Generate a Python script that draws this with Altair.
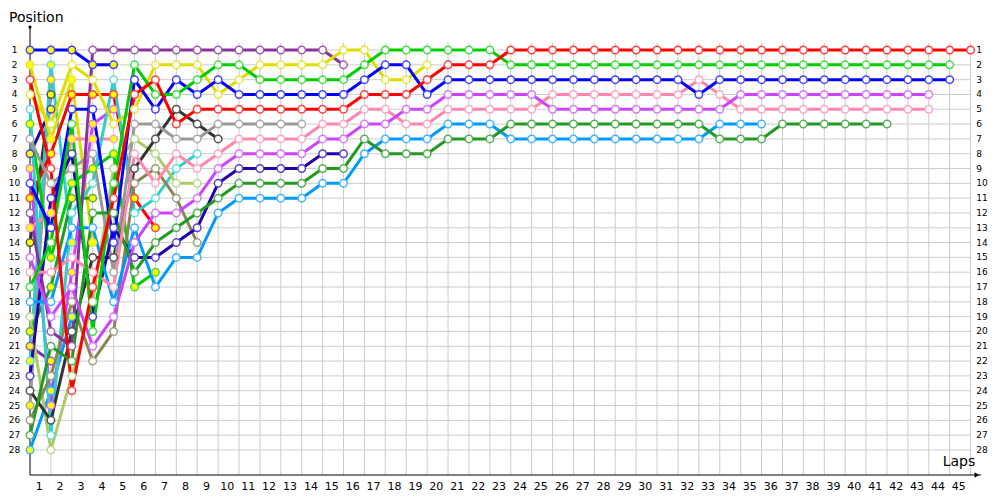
import altair as alt
import pandas as pd

# ---------------- data (positions from the grid, lap 0, onwards) ----------------
LAP_LABELS = [str(i) for i in range(1, 46)]
POSITION_LABELS = [str(i) for i in range(1, 29)]

RED_W = [3, 9, 24, 17, 11, 4, 3, 6, 5, 5,
         5, 5, 5, 5, 5, 5, 4, 4, 4, 3,
         2, 2, 2, 1, 1, 1, 1, 1, 1, 1,
         1, 1, 1, 1, 1, 1, 1, 1, 1, 1,
         1, 1, 1, 1, 1, 1]
GREEN_W = [17, 14, 6, 20, 10, 2, 4, 4, 3, 2,
           2, 3, 3, 3, 3, 3, 2, 1, 1, 1,
           1, 1, 1, 2, 2, 2, 2, 2, 2, 2,
           2, 2, 2, 2, 2, 2, 2, 2, 2, 2,
           2, 2, 2, 2, 2]
BLUE_W = [10, 13, 5, 5, 14, 3, 5, 3, 4, 3,
          4, 4, 4, 4, 4, 4, 3, 2, 2, 4,
          3, 3, 3, 3, 3, 3, 3, 3, 3, 3,
          3, 3, 4, 3, 3, 3, 3, 3, 3, 3,
          3, 3, 3, 3, 3]
VIOLET_W = [15, 19, 17, 21, 19, 14, 12, 12, 11, 9,
            8, 8, 8, 8, 7, 7, 6, 6, 5, 5,
            4, 4, 4, 4, 4, 5, 5, 5, 5, 5,
            5, 5, 5, 5, 4, 4, 4, 4, 4, 4,
            4, 4, 4, 4]
PINK_W = [16, 16, 15, 16, 17, 8, 10, 8, 9, 8,
          7, 7, 7, 7, 6, 6, 5, 5, 6, 6,
          5, 5, 5, 5, 5, 4, 4, 4, 4, 4,
          4, 4, 3, 4, 5, 5, 5, 5, 5, 5,
          5, 5, 5, 5]
DKGREEN_W = [27, 21, 22, 12, 12, 16, 14, 13, 12, 11,
             10, 10, 10, 10, 9, 9, 7, 8, 8, 8,
             7, 7, 7, 6, 6, 6, 6, 6, 6, 6,
             6, 6, 6, 7, 7, 7, 6, 6, 6, 6,
             6, 6]
LTBLUE_W = [18, 18, 13, 13, 18, 13, 17, 15, 15, 12,
            11, 11, 11, 11, 10, 10, 8, 7, 7, 7,
            6, 6, 6, 7, 7, 7, 7, 7, 7, 7,
            7, 7, 7, 6, 6, 6]
DKPURPLE_W = [12, 20, 21, 1, 1, 1, 1, 1, 1, 1, 1, 1, 1, 1, 1, 2]
YELLOW_W = [4, 6, 2, 3, 6, 5, 2, 2, 2, 4, 3, 2, 2, 2, 2, 1, 1, 3, 3, 2]
GRAY_W = [7, 10, 9, 8, 16, 6, 6, 7, 7, 6, 6, 6, 6, 6]
DKGRAY_W = [24, 26, 20, 15, 15, 9, 7, 5, 6, 7]
CYAN_W = [5, 27, 12, 10, 3, 12, 11, 9, 8]
LTOLIVE_W = [19, 28, 23, 18, 9, 7, 8, 10, 10]
OLIVE_W = [26, 23, 18, 22, 20, 10, 9, 11, 14]
NAVY_W = [23, 11, 8, 19, 13, 15, 15, 14, 13, 10, 9, 9, 9, 9, 8, 8]

BLUE_Y = [1, 1, 1, 2, 2]
YELLOW_Y = [2, 7, 3, 14]
VIOLET_Y = [9, 25, 16, 6, 5]
PINK_Y = [13, 12, 7, 7, 7]
RED_Y = [11, 8, 4, 4, 4, 11, 13]
GREEN_Y = [6, 15, 10, 9, 8, 17, 16]
DKGREEN_Y = [20, 17, 11, 11]
NAVY_Y = [8, 5]
DKPURPLE_Y = [21, 22]
CYAN_Y = [22, 2, 14]
DKGRAY_Y = [14, 4]
GRAY_Y = [25, 3]
LTBLUE_Y = [28, 24, 19]

# (name, positions, line colour, ring colour, marker fill)
DRIVERS = [
    ("navyY", NAVY_Y, "#2200aa", "#5544cc", "#ffff00"),
    ("dkpurpleY", DKPURPLE_Y, "#883399", "#a060b0", "#ffff00"),
    ("dkgrayY", DKGRAY_Y, "#333333", "#555555", "#ffff00"),
    ("grayY", GRAY_Y, "#999999", "#aaaaaa", "#ffff00"),
    ("cyanY", CYAN_Y, "#33cccc", "#66dddd", "#ffff00"),
    ("ltblueY", LTBLUE_Y, "#0099ff", "#44b3ff", "#ffff00"),
    ("yellowY", YELLOW_Y, "#dddd00", "#e6e640", "#ffff00"),
    ("dkgreenY", DKGREEN_Y, "#229922", "#55b055", "#ffff00"),
    ("blueY", BLUE_Y, "#0000ff", "#4444ff", "#ffff00"),
    ("violetY", VIOLET_Y, "#cc44ff", "#d977ff", "#ffff00"),
    ("pinkY", PINK_Y, "#ff88aa", "#ffa6c0", "#ffff00"),
    ("redY", RED_Y, "#ff0000", "#ff4444", "#ffff00"),
    ("greenY", GREEN_Y, "#00cc00", "#44dd44", "#ffff00"),
    ("cyanW", CYAN_W, "#33cccc", "#66dddd", "#ffffff"),
    ("ltoliveW", LTOLIVE_W, "#aacc66", "#bbd888", "#ffffff"),
    ("oliveW", OLIVE_W, "#888855", "#a0a077", "#ffffff"),
    ("dkgrayW", DKGRAY_W, "#333333", "#555555", "#ffffff"),
    ("grayW", GRAY_W, "#999999", "#aaaaaa", "#ffffff"),
    ("navyW", NAVY_W, "#2200aa", "#5544cc", "#ffffff"),
    ("dkpurpleW", DKPURPLE_W, "#883399", "#a060b0", "#ffffff"),
    ("yellowW", YELLOW_W, "#dddd00", "#e6e640", "#ffffff"),
    ("ltblueW", LTBLUE_W, "#0099ff", "#44b3ff", "#ffffff"),
    ("dkgreenW", DKGREEN_W, "#229922", "#55b055", "#ffffff"),
    ("pinkW", PINK_W, "#ff88aa", "#ffa6c0", "#ffffff"),
    ("violetW", VIOLET_W, "#cc44ff", "#d977ff", "#ffffff"),
    ("blueW", BLUE_W, "#0000ff", "#4444ff", "#ffffff"),
    ("greenW", GREEN_W, "#00cc00", "#44dd44", "#ffffff"),
    ("redW", RED_W, "#ff0000", "#ff4444", "#ffffff"),
]

rows = []
for order, (name, positions, col, ring, fillc) in enumerate(DRIVERS):
    for lap, p in enumerate(positions):
        rows.append({"driver": name, "lap": lap, "pos": p, "ring": ring,
                     "fillc": fillc, "ord": order})
df = pd.DataFrame(rows)

names = [d[0] for d in DRIVERS]
colors = [d[2] for d in DRIVERS]

X_SCALE = alt.Scale(domain=[0, 45.69], nice=False, zero=False)
Y_SCALE = alt.Scale(domain=[-0.69, 29.69], reverse=True, nice=False, zero=False)
FONT = "DejaVu Sans"
GRID = "#cccccc"

lap_df = pd.DataFrame({"lap": list(range(1, 46)), "label": LAP_LABELS})
pos_df = pd.DataFrame({"pos": list(range(1, 29)), "label": POSITION_LABELS})

vgrid = alt.Chart(lap_df).mark_rule(color=GRID, strokeWidth=1).encode(
    x=alt.X("lap:Q", scale=X_SCALE, axis=None),
    y=alt.datum(0.5, scale=Y_SCALE, axis=None),
    y2=alt.datum(29.69),
)
hgrid = alt.Chart(pos_df).mark_rule(color=GRID, strokeWidth=1).encode(
    y=alt.Y("pos:Q", scale=Y_SCALE, axis=None),
    x=alt.datum(0, scale=X_SCALE, axis=None),
    x2=alt.datum(45),
)

lines = alt.Chart(df).mark_line(strokeWidth=3, strokeCap="round", strokeJoin="round").encode(
    x=alt.X("lap:Q", scale=X_SCALE, axis=None),
    y=alt.Y("pos:Q", scale=Y_SCALE, axis=None),
    color=alt.Color("driver:N", scale=alt.Scale(domain=names, range=colors), legend=None),
    detail="driver:N",
    order=alt.Order("lap:Q"),
)

points = alt.Chart(df).mark_point(shape="circle", filled=True, size=56, strokeWidth=1.5, opacity=1).encode(
    x=alt.X("lap:Q", scale=X_SCALE, axis=None),
    y=alt.Y("pos:Q", scale=Y_SCALE, axis=None),
    fill=alt.Fill("fillc:N", scale=None),
    stroke=alt.Stroke("ring:N", scale=None),
    order=alt.Order("ord:Q"),
)

yaxis = alt.Chart(pos_df.head(1)).mark_rule(color="black", strokeWidth=1).encode(
    x=alt.datum(0, scale=X_SCALE, axis=None),
    y=alt.datum(-0.55, scale=Y_SCALE, axis=None),
    y2=alt.datum(29.69),
)
xaxis = alt.Chart(pos_df.head(1)).mark_rule(color="black", strokeWidth=1).encode(
    y=alt.datum(29.69, scale=Y_SCALE, axis=None),
    x=alt.datum(0, scale=X_SCALE, axis=None),
    x2=alt.datum(45.5),
)
xarrow = alt.Chart(pos_df.head(1)).mark_point(shape="triangle-right", filled=True, color="black",
                                              size=28, opacity=1).encode(
    x=alt.datum(45.3, scale=X_SCALE, axis=None),
    y=alt.datum(29.69, scale=Y_SCALE, axis=None),
)
yarrow = alt.Chart(pos_df.head(1)).mark_point(shape="circle", filled=True, color="black",
                                              size=10, opacity=1).encode(
    x=alt.datum(0, scale=X_SCALE, axis=None),
    y=alt.datum(-0.55, scale=Y_SCALE, axis=None),
)

xlabels = alt.Chart(lap_df).transform_calculate(xp="datum.lap - 0.56").mark_text(
    font=FONT, fontSize=11, color="black", align="center", baseline="middle"
).encode(
    x=alt.X("xp:Q", scale=X_SCALE, axis=None),
    y=alt.datum(30.5, scale=Y_SCALE, axis=None),
    text="label:N",
)
ylabels_left = alt.Chart(pos_df).mark_text(
    font=FONT, fontSize=9, color="black", align="center", baseline="middle"
).encode(
    y=alt.Y("pos:Q", scale=Y_SCALE, axis=None),
    x=alt.datum(-0.74, scale=X_SCALE, axis=None),
    text="label:N",
)
ylabels_right = alt.Chart(pos_df).mark_text(
    font=FONT, fontSize=9, color="black", align="left", baseline="middle"
).encode(
    y=alt.Y("pos:Q", scale=Y_SCALE, axis=None),
    x=alt.datum(45.27, scale=X_SCALE, axis=None),
    text="label:N",
)

title_pos = alt.Chart(pos_df.head(1)).mark_text(
    font=FONT, fontSize=14, color="black", align="left", baseline="middle", text="Position"
).encode(x=alt.value(-21), y=alt.value(-7))
title_laps = alt.Chart(pos_df.head(1)).mark_text(
    font=FONT, fontSize=14, color="black", align="center", baseline="middle", text="Laps"
).encode(x=alt.value(929), y=alt.value(437))

chart = alt.layer(
    vgrid, hgrid, yaxis, xaxis, xarrow, yarrow,
    lines, points, xlabels, ylabels_left, ylabels_right, title_pos, title_laps,
).properties(
    width=955,
    height=450,
    padding={"left": 22, "top": 17, "right": 7, "bottom": 17},
    autosize=alt.AutoSizeParams(type="none"),
    background="white",
).configure_view(stroke=None)

chart.save("out.html", embed_options={"renderer": "svg", "actions": False})
